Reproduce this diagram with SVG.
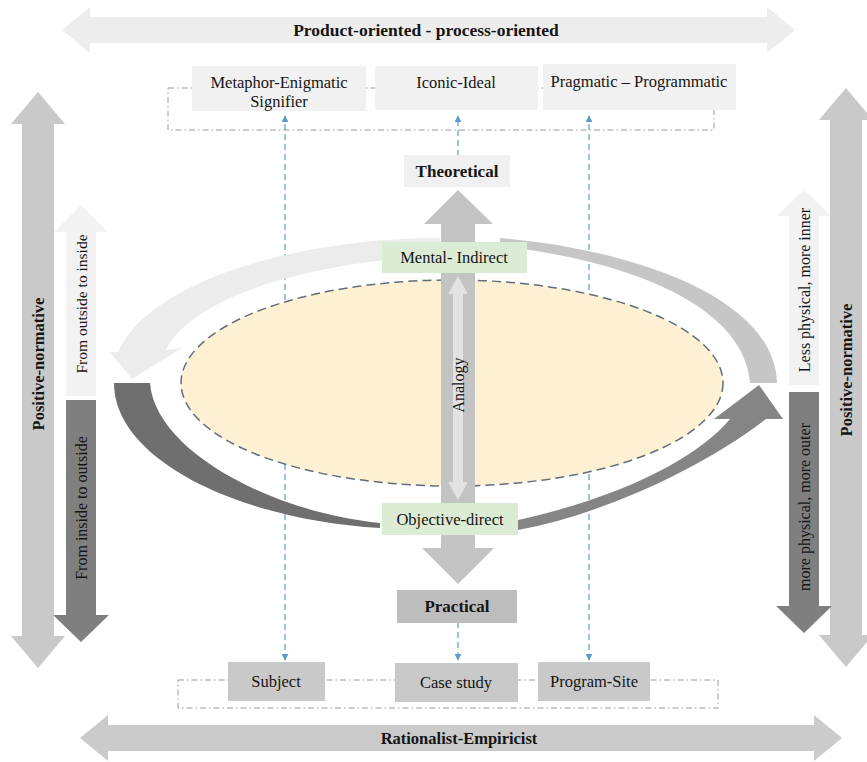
<svg xmlns="http://www.w3.org/2000/svg" width="867" height="762" viewBox="0 0 867 762">
  <style>
    text { font-family: "Liberation Serif", "Times New Roman", serif; fill: #151515; }
    .lbl { font-size: 16.5px; text-anchor: middle; }
    .bold { font-size: 17px; font-weight: bold; text-anchor: middle; }
    .vtxt { font-size: 16px; text-anchor: middle; }
    .topbox { fill: #f1f1f1; }
    .botbox { fill: #c9c9c9; }
    .green { fill: #dcebd4; }
    .frame { fill: none; stroke: #9a9a9a; stroke-width: 1; stroke-dasharray: 6 3 1.5 3; }
    .link { fill: none; stroke: #5b9bd5; stroke-width: 1.2; stroke-dasharray: 6 4; }
  </style>
  <defs>
    <marker id="tip" viewBox="0 0 10 10" refX="9" refY="5" markerWidth="7" markerHeight="7" orient="auto-start-reverse" markerUnits="userSpaceOnUse">
      <path d="M0,0 L10,5 L0,10 z" fill="#5b9bd5"/>
    </marker>
  </defs>

  <!-- horizontal axis arrows -->
  <g id="axis-product-process">
    <polygon points="62,30 90,7 90,17 767,17 767,7 795,30 767,53 767,43 90,43 90,53" fill="#ededed"/>
    <text class="bold" x="426" y="36" style="font-size:17.5px">Product-oriented - process-oriented</text>
  </g>
  <g id="axis-rationalist-empiricist">
    <polygon points="80,738 108,715 108,725 814,725 814,715 842,738 814,761 814,751 108,751 108,761" fill="#cbcbcb"/>
    <text class="bold" x="459" y="744" style="font-size:16.5px">Rationalist-Empiricist</text>
  </g>

  <!-- vertical axis arrows, left -->
  <g id="axis-positive-normative-left">
    <polygon points="38,92 65,124 54,124 54,636 65,636 38,668 11,636 22,636 22,124 11,124" fill="#c9c9c9"/>
    <text class="bold" transform="translate(44,364) rotate(-90)" style="font-size:16.5px">Positive-normative</text>
  </g>
  <g id="outside-to-inside">
    <polygon points="81,205 108,232 96,232 96,396 66,396 66,232 54,232" fill="#f2f2f2"/>
    <text class="vtxt" transform="translate(87,304) rotate(-90)" style="font-size:15.5px">From outside to inside</text>
  </g>
  <g id="inside-to-outside">
    <polygon points="66,400 96,400 96,615 109,615 81,642 53,615 66,615" fill="#7f7f7f"/>
    <text class="vtxt" transform="translate(87,508) rotate(-90)">From inside to outside</text>
  </g>

  <!-- vertical axis arrows, right -->
  <g id="axis-positive-normative-right">
    <polygon points="846,88 873,120 862,120 862,635 873,635 846,667 819,635 830,635 830,120 819,120" fill="#c9c9c9"/>
    <text class="bold" transform="translate(852,370) rotate(-90)" style="font-size:16.5px">Positive-normative</text>
  </g>
  <g id="less-physical">
    <polygon points="804,190 831,216 819,216 819,385 789,385 789,216 777,216" fill="#f2f2f2"/>
    <text class="vtxt" transform="translate(810,290) rotate(-90)">Less physical, more inner</text>
  </g>
  <g id="more-physical">
    <polygon points="789,392 819,392 819,606 832,606 804,633 776,606 789,606" fill="#7f7f7f"/>
    <text class="vtxt" transform="translate(810,507) rotate(-90)">more physical, more outer</text>
  </g>

  <!-- dash-dot frames around the top and bottom rows -->
  <g id="frames">
    <rect class="frame" x="168" y="88" width="546" height="42"/>
    <rect class="frame" x="178" y="680" width="540" height="28"/>
  </g>

  <!-- dashed links between the rows -->
  <g id="connectors">
    <line class="link" x1="285" y1="660" x2="285" y2="116" marker-start="url(#tip)" marker-end="url(#tip)"/>
    <line class="link" x1="589" y1="660" x2="589" y2="116" marker-start="url(#tip)" marker-end="url(#tip)"/>
    <line class="link" x1="458" y1="156" x2="458" y2="116" marker-end="url(#tip)"/>
    <line class="link" x1="458" y1="622" x2="458" y2="660" marker-end="url(#tip)"/>
  </g>

  <!-- cycle of curved arrows round the core -->
  <g id="cycle">
    <!-- upper left, light -->
    <path d="M440,238 C300,238 150,280 118,352 L110,352 L132,379 L182,348 L166,350 C190,300 300,262 440,256 Z" fill="#ececec"/>
    <!-- upper right -->
    <path d="M500,238 C640,250 775,300 777,383 L750,383 C745,310 640,262 500,246 Z" fill="#c6c6c6"/>
    <!-- lower left, dark -->
    <path d="M114,383 C114,460 240,520 380,528 L380,523 C270,512 155,450 150,383 Z" fill="#6f6f6f"/>
    <!-- lower right -->
    <path d="M518,530 C600,515 700,470 766,419 L783,419 L759,385 L714,419 L730,419 C700,455 630,495 518,520 Z" fill="#858585"/>
  </g>

  <!-- core ellipse -->
  <g id="core">
    <ellipse cx="452" cy="383" rx="271" ry="103" fill="#fdf0d3" stroke="#5f6e7a" stroke-width="1.5" stroke-dasharray="9 5"/>
  </g>

  <!-- theoretical / practical axis -->
  <g id="theory-practice-axis">
    <polygon points="458,190 493,224 475,224 475,548 494,548 458,584 422,548 441,548 441,224 424,224" fill="#c3c3c3"/>
  </g>
  <g id="analogy">
    <polygon points="458,276 468,294 463,294 463,482 468,482 458,500 448,482 453,482 453,294 448,294" fill="#e2e2e2"/>
    <text class="lbl" transform="translate(464,385) rotate(-90)" style="font-size:16px">Analogy</text>
  </g>

  <!-- nodes -->
  <g id="metaphor-enigmatic">
    <rect class="topbox" x="192" y="66" width="174" height="45"/>
    <text class="lbl" x="279" y="88">Metaphor-Enigmatic</text>
    <text class="lbl" x="279" y="107">Signifier</text>
  </g>
  <g id="iconic-ideal">
    <rect class="topbox" x="375" y="66" width="163" height="44"/>
    <text class="lbl" x="456" y="88">Iconic-Ideal</text>
  </g>
  <g id="pragmatic-programmatic">
    <rect class="topbox" x="543" y="64" width="193" height="46"/>
    <text class="lbl" x="639" y="87">Pragmatic – Programmatic</text>
  </g>
  <g id="theoretical">
    <rect fill="#f0f0f0" x="404" y="155" width="106" height="32"/>
    <text class="bold" x="457" y="177">Theoretical</text>
  </g>
  <g id="mental-indirect">
    <rect class="green" x="382" y="242" width="145" height="31"/>
    <text class="lbl" x="454" y="263">Mental- Indirect</text>
  </g>
  <g id="objective-direct">
    <rect class="green" x="382" y="503" width="136" height="32"/>
    <text class="lbl" x="450" y="525">Objective-direct</text>
  </g>
  <g id="practical">
    <rect fill="#bdbdbd" x="397" y="590" width="120" height="33"/>
    <text class="bold" x="457" y="612">Practical</text>
  </g>
  <g id="subject">
    <rect class="botbox" x="228" y="662" width="97" height="39"/>
    <text class="lbl" x="276" y="687">Subject</text>
  </g>
  <g id="case-study">
    <rect class="botbox" x="395" y="663" width="123" height="39"/>
    <text class="lbl" x="456" y="688">Case study</text>
  </g>
  <g id="program-site">
    <rect class="botbox" x="538" y="662" width="112" height="39"/>
    <text class="lbl" x="594" y="687">Program-Site</text>
  </g>
</svg>
